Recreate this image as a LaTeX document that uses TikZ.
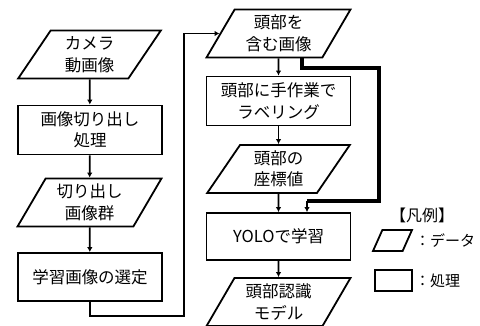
\documentclass[tikz,border=0pt]{standalone}
\usepackage{fontspec}
\setmainfont{Noto Sans CJK JP}
\usetikzlibrary{shapes.geometric,arrows.meta}
\begin{document}
\begin{tikzpicture}[x=1pt,y=-1pt,
  base/.style={draw,line width=1.8pt,align=center,font=\fontsize{16.5}{21.5}\selectfont,inner sep=0pt},
  proc/.style={base,rectangle,minimum width=144pt,minimum height=49pt},
  data/.style={base,trapezium,trapezium left angle=60,trapezium right angle=120,trapezium stretches=true,minimum width=144pt,minimum height=48pt},
  flow/.style={line width=1.8pt,-{Latex[length=5pt,width=5.5pt]}},
  thickflow/.style={line width=3.2pt},
  legtext/.style={font=\fontsize{15}{20}\selectfont,inner sep=0pt}]
\useasboundingbox (0,0) rectangle (480,326);
% left column
\node[data] (cam) at (89.5,54.5) {カメラ\\動画像};
\node[proc] (cut) at (90,130) {画像切り出し\\処理};
\node[data] (grp) at (89.5,202.5) {切り出し\\画像群};
\node[proc,minimum height=48pt] (sel) at (90,277) {学習画像の選定};
% right column
\node[data] (head) at (278.5,33.5) {頭部を\\含む画像};
\node[proc] (lab) at (278.5,101) {頭部に手作業で\\ラベリング};
\node[data] (crd) at (278.5,169) {頭部の\\座標値};
\node[proc,minimum height=47pt] (yolo) at (278.5,236.5) {YOLOで学習};
\node[data] (mdl) at (278.5,302) {頭部認識\\モデル};
% connectors
\draw[flow] (cam) -- (cut);
\draw[flow] (cut) -- (grp);
\draw[flow] (grp) -- (sel);
\coordinate (c1) at (184,316);
\draw[flow] (sel.south) |- (c1) |- (head);
\draw[flow] (head) -- (lab);
\draw[flow] (lab) -- (crd);
\draw[flow] (crd) -- (yolo);
\draw[flow] (yolo) -- (mdl);
\coordinate (t1) at (302,68);
\coordinate (t2) at (379,201);
\coordinate (t3) at (307,201);
\draw[thickflow] (head.south -| t1) -- (t1) -| (t2) -- (t3);
\draw[flow] (t3) -- (yolo.north -| t3);
% legend
\node[legtext,font=\fontsize{16}{20}\selectfont] (lg) at (422,215) {【凡例】};
\node[base,trapezium,trapezium left angle=67,trapezium right angle=113,trapezium stretches=true,minimum width=39pt,minimum height=21pt] (lgd) at (392.5,240.5) {\phantom{x}};
\node[base,rectangle,minimum width=37pt,minimum height=21pt] (lgp) at (393.5,280.5) {};
\node[legtext,anchor=west] (lgdt) at (415,241) {：データ};
\node[legtext,anchor=west] (lgpt) at (415,281) {：処理};
\end{tikzpicture}
\end{document}
